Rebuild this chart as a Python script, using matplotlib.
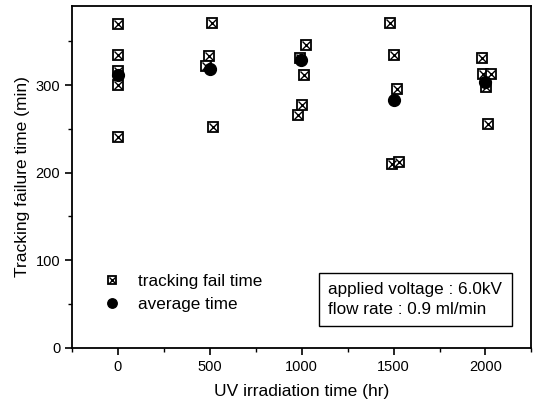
import matplotlib
matplotlib.use("Agg")
import matplotlib.pyplot as plt
from matplotlib.ticker import MultipleLocator
from matplotlib.legend_handler import HandlerTuple

plt.rcParams['font.family'] = ['Liberation Sans', 'DejaVu Sans']

# individual tracking failure times
fail_x = [0, 0, 0, 0, 0,
          493, 510, 520, 477,
          982, 1004, 1010, 1021, 990,
          1483, 1490, 1500, 1517, 1528,
          1983, 1988, 2004, 2015, 2031]
fail_y = [370, 334, 316, 300, 241,
          333, 371, 252, 322,
          266, 277, 311, 346, 331,
          371, 210, 334, 296, 212,
          331, 312, 298, 256, 312]

# average time
avg_x = [0, 499, 999, 1500, 1999]
avg_y = [311, 318, 328, 283, 303]

xticks = [0, 500, 1000, 1500, 2000]
yticks = [0, 100, 200, 300]

fig = plt.figure(figsize=(5.33, 4.07), dpi=100)
ax = fig.add_axes([0.135, 0.145, 0.862, 0.840])

sq, = ax.plot(fail_x, fail_y, linestyle='none', marker='s', markersize=7.5,
              markerfacecolor='white', markeredgecolor='black', markeredgewidth=1.3, zorder=3)
xx, = ax.plot(fail_x, fail_y, linestyle='none', marker='x', markersize=6,
              markeredgecolor='black', markeredgewidth=1.0, zorder=4)
circ, = ax.plot(avg_x, avg_y, linestyle='none', marker='o', markersize=8.5,
                markerfacecolor='black', markeredgecolor='black', zorder=5)

ax.set_xlim(-250, 2250)
ax.set_ylim(0, 390)
ax.set_xticks(xticks)
ax.set_yticks(yticks)
ax.xaxis.set_minor_locator(MultipleLocator(250))
ax.yaxis.set_minor_locator(MultipleLocator(50))
ax.tick_params(which='major', direction='out', length=5, width=1.2, labelsize=10.5,
               top=False, right=False)
ax.tick_params(which='minor', direction='out', length=3, width=1.0,
               top=False, right=False)
for s in ax.spines.values():
    s.set_linewidth(1.3)

ax.set_xlabel('UV irradiation time (hr)', fontsize=12.5, labelpad=7)
ax.set_ylabel('Tracking failure time (min)', fontsize=12.5, labelpad=4)

leg = ax.legend([(sq, xx), circ], ['tracking fail time', 'average time'],
                handler_map={tuple: HandlerTuple(ndivide=1)},
                loc='lower left', bbox_to_anchor=(0.035, 0.06), frameon=False,
                fontsize=12.3, handlelength=1.0, handletextpad=1.0,
                labelspacing=0.45, markerscale=0.8)

ax.text(0.558, 0.142, 'applied voltage : 6.0kV\nflow rate : 0.9 ml/min',
        transform=ax.transAxes, fontsize=12.3, va='center', ha='left',
        linespacing=1.35,
        bbox=dict(boxstyle='square,pad=0.55', facecolor='white',
                  edgecolor='black', linewidth=1.0))

fig.savefig('out.png', dpi=100)
